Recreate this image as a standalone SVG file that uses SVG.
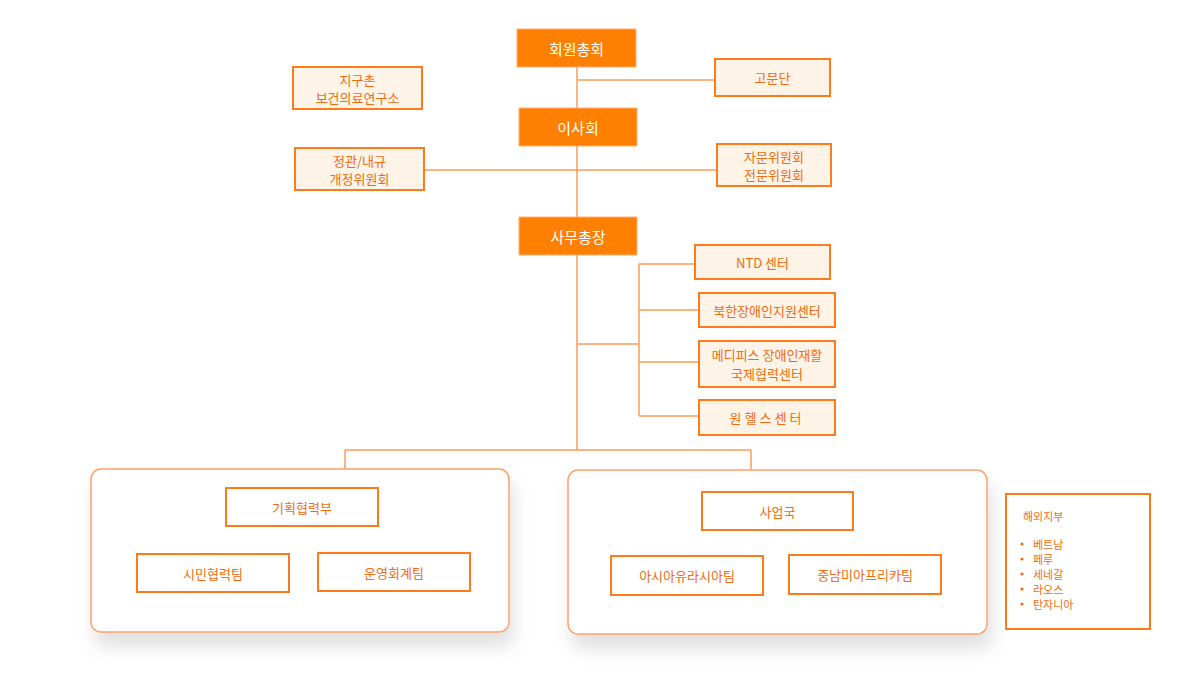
<svg xmlns="http://www.w3.org/2000/svg" width="1200" height="700" viewBox="0 0 1200 700">
<defs>
<filter id="sh" x="-20%" y="-20%" width="140%" height="160%"><feDropShadow dx="4" dy="14" stdDeviation="9" flood-color="#000" flood-opacity="0.12"/></filter>
<style>
text{font-family:"Noto Sans CJK KR","Noto Sans",sans-serif;text-anchor:middle;dominant-baseline:central}
.main rect{fill:#FF7F00;stroke:#FFB27A;stroke-width:1}
.main text{fill:#fff;font-size:15px}
.sub rect{fill:#FDF3E7;stroke:#FF7A1A;stroke-width:2}
.sub text{fill:#F26B0F;font-size:13px}
.wb rect{fill:#fff;stroke:#FF7A1A;stroke-width:2}
.wb text{fill:#F26B0F;font-size:13px}
.wb .li{text-anchor:start;font-size:11px}
.dot{fill:#F26B0F}
.panel{fill:#fff;stroke:#FFA066;stroke-width:1.5;filter:url(#sh)}
#connectors path{fill:none;stroke:#FF9A55;stroke-width:1.5}
</style>
</defs>
<rect width="1200" height="700" fill="#fff"/>
<g id="connectors">
<path d="M577 67V450M577 80H715M424 170H717M577 344H639M639 264V416M639 264H695M639 310H699M639 362H699M639 416H699M345 450H751M345 450V469M751 450V470"/>
</g>
<rect class="panel" x="91" y="469" width="418" height="163" rx="10"/>
<rect class="panel" x="568" y="470" width="419" height="164" rx="10"/>
<g id="n1" class="main"><rect x="517" y="29" width="119" height="38"/><text x="576.5" y="48">회원총회</text></g>
<g id="n2" class="main"><rect x="519" y="108" width="118" height="38"/><text x="578" y="127">이사회</text></g>
<g id="n3" class="main"><rect x="519" y="217" width="118" height="38"/><text x="578" y="236">사무총장</text></g>
<g id="n4" class="sub"><rect x="715" y="59" width="115" height="37"/><text x="772.5" y="77.5">고문단</text></g>
<g id="n5" class="sub"><rect x="293" y="67" width="129" height="42"/><text x="357.5" y="79">지구촌</text><text x="357.5" y="97">보건의료연구소</text></g>
<g id="n6" class="sub"><rect x="295" y="148" width="129" height="42"/><text x="359.5" y="160">정관/내규</text><text x="359.5" y="178">개정위원회</text></g>
<g id="n7" class="sub"><rect x="717" y="144" width="114" height="42"/><text x="774" y="156">자문위원회</text><text x="774" y="174">전문위원회</text></g>
<g id="n8" class="sub"><rect x="695" y="245" width="135" height="34"/><text x="762.5" y="262">NTD 센터</text></g>
<g id="n9" class="sub"><rect x="699" y="293" width="136" height="34"/><text x="767" y="310">북한장애인지원센터</text></g>
<g id="n10" class="sub"><rect x="699" y="341" width="136" height="46"/><text x="767" y="354">메디피스 장애인재활</text><text x="767" y="373">국제협력센터</text></g>
<g id="n11" class="sub"><rect x="699" y="400" width="136" height="35"/><text x="767" y="417.5" letter-spacing="3">원헬스센터</text></g>
<g id="n12" class="wb"><rect x="226" y="488" width="152" height="38"/><text x="302" y="507">기획협력부</text></g>
<g id="n13" class="wb"><rect x="137" y="554" width="152" height="38"/><text x="213" y="573">시민협력팀</text></g>
<g id="n14" class="wb"><rect x="318" y="553" width="152" height="38"/><text x="394" y="572">운영회계팀</text></g>
<g id="n15" class="wb"><rect x="702" y="492" width="151" height="38"/><text x="777.5" y="511">사업국</text></g>
<g id="n16" class="wb"><rect x="611" y="556" width="152" height="39"/><text x="687" y="575.5">아시아유라시아팀</text></g>
<g id="n17" class="wb"><rect x="789" y="555" width="152" height="39"/><text x="865" y="574.5">중남미아프리카팀</text></g>
<g id="n18" class="wb"><rect x="1006" y="494" width="144" height="135"/>
<text class="li" x="1023" y="516">해외지부</text>
<circle class="dot" cx="1022" cy="544" r="1.6"/><text class="li" x="1033" y="544">베트남</text>
<circle class="dot" cx="1022" cy="559" r="1.6"/><text class="li" x="1033" y="559">페루</text>
<circle class="dot" cx="1022" cy="574" r="1.6"/><text class="li" x="1033" y="574">세네갈</text>
<circle class="dot" cx="1022" cy="589" r="1.6"/><text class="li" x="1033" y="589">라오스</text>
<circle class="dot" cx="1022" cy="604" r="1.6"/><text class="li" x="1033" y="604">탄자니아</text>
</g>
</svg>
